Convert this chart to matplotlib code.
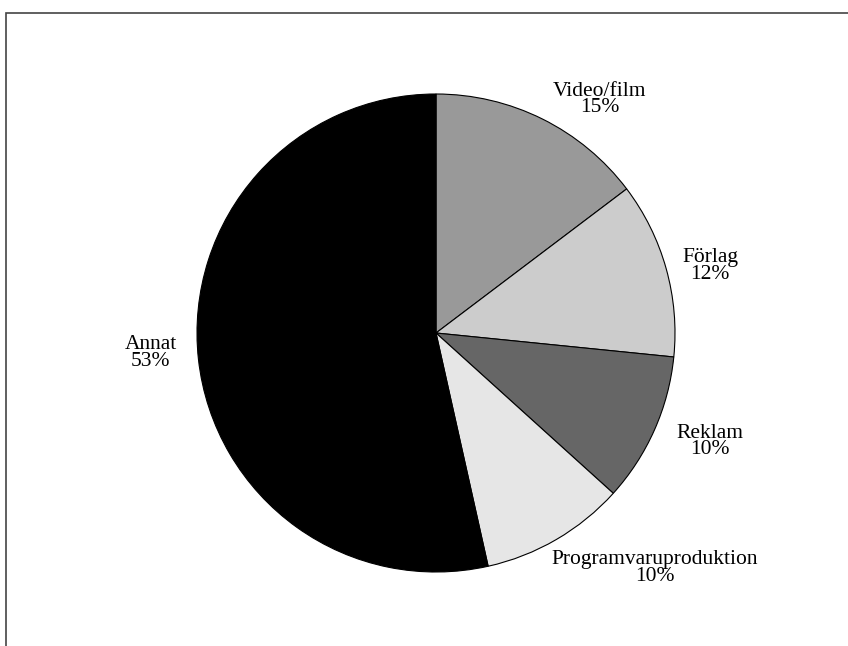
import matplotlib.pyplot as plt
from matplotlib.patches import Rectangle
from matplotlib.transforms import ScaledTranslation

labels = ['Video/film', 'Förlag', 'Reklam', 'Programvaruproduktion', 'Annat']
shares = [14.7, 11.9, 10.1, 9.8, 53.5]
pct_text = ['15%', '12%', '10%', '10%', '53%']  # as printed on the chart
colors = ['#999999', '#cccccc', '#666666', '#e6e6e6', '#000000']

plt.rcParams['font.family'] = ['Liberation Serif', 'DejaVu Serif']

fig = plt.figure(figsize=(8.48, 6.46), dpi=100)

# frame around the chart (right and bottom edges run off the picture)
fig.patches.append(Rectangle((6 / 848, -0.1), 2, (646 - 13) / 646 + 0.1,
                             transform=fig.transFigure, fill=False,
                             edgecolor='#444444', linewidth=1.2))

ax = fig.add_axes([197 / 848, 74 / 646, 478 / 848, 478 / 646])
wedge_labels = [f'{l}\n{p}' for l, p in zip(labels, pct_text)]
wedges, texts = ax.pie(shares, labels=wedge_labels, colors=colors,
                       startangle=90, counterclock=False, labeldistance=1.1,
                       wedgeprops={'edgecolor': 'black', 'linewidth': 0.8},
                       textprops={'fontsize': 15.5, 'multialignment': 'center',
                                  'linespacing': 0.82})

# small hand nudges of the labels (pixels, +y down) to sit like the original
nudges = [(0, 2), (-7, 4), (0, 2), (-17, 8), (2, -9)]
for t, (dx, dy) in zip(texts, nudges):
    t.set_transform(t.get_transform() +
                    ScaledTranslation(dx / 100, -dy / 100, fig.dpi_scale_trans))

ax.set_xlim(-1, 1)
ax.set_ylim(-1, 1)
ax.set_aspect('equal')

fig.savefig('out.png', dpi=100)
